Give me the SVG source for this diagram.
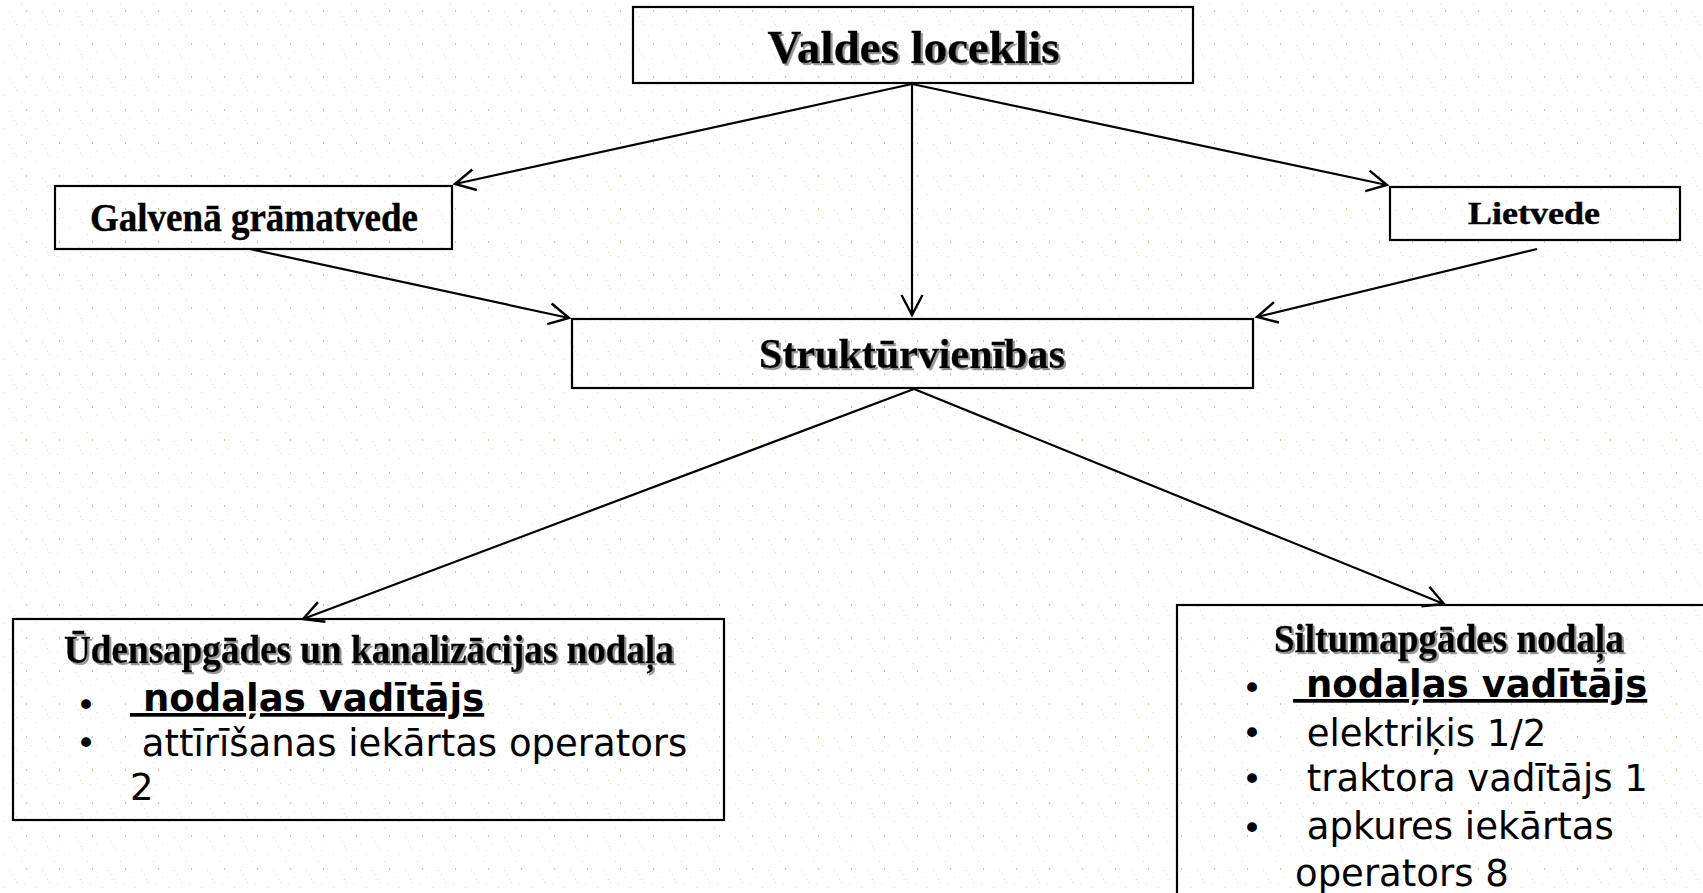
<svg xmlns="http://www.w3.org/2000/svg" width="1703" height="893" viewBox="0 0 1703 893">
<defs>
<pattern id="bg" width="33" height="33" patternUnits="userSpaceOnUse">
<rect width="33" height="33" fill="#ffffff"/>
<rect x="26" y="10" width="1" height="2" fill="#cfcb98"/>
<rect x="21" y="3" width="1" height="1" fill="#e6e3c8"/>
<rect x="9" y="12" width="1" height="1" fill="#e3e0c4"/>
<rect x="12" y="16" width="1" height="1" fill="#e8e6cf"/>
<rect x="14" y="21" width="1" height="1" fill="#e3e0c4"/>
<rect x="24" y="25" width="1" height="1" fill="#e8e6cf"/>
<rect x="16" y="24" width="1" height="1" fill="#e6e3c8"/>
<rect x="3" y="29" width="1" height="1" fill="#e8e6cf"/>
<rect x="30" y="19" width="1" height="1" fill="#ebe9d6"/>
</pattern>
<filter id="shadow" x="-5%" y="-20%" width="110%" height="140%">
<feDropShadow dx="2" dy="2" stdDeviation="0.6" flood-color="#8a8a8a" flood-opacity="0.9"/>
</filter>
<marker id="arr" markerUnits="userSpaceOnUse" orient="auto" overflow="visible" refX="0" refY="0" markerWidth="1" markerHeight="1">
<path d="M-20,-10.5 L0,0 L-20,10.5" fill="none" stroke="#000" stroke-width="2.4" stroke-linejoin="miter"/>
</marker>
</defs>
<style>
.box{fill:none;stroke:#000;stroke-width:2.2}
.title{font-family:"Liberation Serif","Times New Roman",serif;font-weight:bold;fill:#000;stroke:#000;stroke-width:0.4}
.sh{filter:url(#shadow)}
.item{font-family:"DejaVu Sans",Verdana,sans-serif;font-size:37px;fill:#000}
.bold{font-weight:bold;text-decoration:underline}
.bullet{font-family:"DejaVu Sans",Verdana,sans-serif;font-size:34px;fill:#000}
.conn line{stroke:#000;stroke-width:2.2;marker-end:url(#arr)}
</style>
<rect width="1703" height="893" fill="url(#bg)"/>

<g id="connectors" class="conn">
<line x1="912" y1="84" x2="455" y2="184"/>
<line x1="912" y1="84" x2="1387" y2="185"/>
<line x1="912" y1="84" x2="912" y2="315"/>
<line x1="250" y1="249" x2="569" y2="318"/>
<line x1="1537" y1="249" x2="1257" y2="317"/>
<line x1="914" y1="389" x2="303" y2="619"/>
<line x1="914" y1="389" x2="1444" y2="604"/>
</g>

<g id="valdes-loceklis">
<rect class="box" x="633" y="7" width="560" height="76"/>
<text class="title sh" x="913.5" y="63" font-size="47" text-anchor="middle">Valdes loceklis</text>
</g>

<g id="galvena-gramatvede">
<rect class="box" x="55" y="186" width="397" height="63"/>
<text class="title" x="90" y="231" font-size="41" textLength="328" lengthAdjust="spacingAndGlyphs">Galvenā grāmatvede</text>
</g>

<g id="lietvede">
<rect class="box" x="1390" y="187" width="290" height="53"/>
<text class="title" x="1468" y="224" font-size="31" textLength="132" lengthAdjust="spacingAndGlyphs">Lietvede</text>
</g>

<g id="strukturvienibas">
<rect class="box" x="572" y="319" width="681" height="69"/>
<text class="title sh" x="759" y="368" font-size="43" textLength="306" lengthAdjust="spacingAndGlyphs">Struktūrvienības</text>
</g>

<g id="udensapgades-nodala">
<rect class="box" x="13" y="619" width="711" height="201"/>
<text class="title sh" x="64" y="663" font-size="40" textLength="610" lengthAdjust="spacingAndGlyphs">Ūdensapgādes un kanalizācijas nodaļa</text>
<text class="bullet" x="86" y="717" text-anchor="middle">•</text>
<text class="item bold" x="130" y="711" xml:space="preserve"> nodaļas vadītājs</text>
<text class="bullet" x="86" y="755" text-anchor="middle">•</text>
<text class="item" x="130" y="756" xml:space="preserve"> attīrīšanas iekārtas operators</text>
<text class="item" x="130" y="800">2</text>
</g>

<g id="siltumapgades-nodala">
<rect class="box" x="1177" y="605" width="560" height="320"/>
<text class="title sh" x="1274" y="652" font-size="39" textLength="350" lengthAdjust="spacingAndGlyphs">Siltumapgādes nodaļa</text>
<text class="bullet" x="1252" y="700" text-anchor="middle">•</text>
<text class="item bold" x="1293" y="697" xml:space="preserve"> nodaļas vadītājs</text>
<text class="bullet" x="1252" y="745" text-anchor="middle">•</text>
<text class="item" x="1295" y="746" xml:space="preserve"> elektriķis 1/2</text>
<text class="bullet" x="1252" y="791" text-anchor="middle">•</text>
<text class="item" x="1295" y="791" xml:space="preserve"> traktora vadītājs 1</text>
<text class="bullet" x="1252" y="840" text-anchor="middle">•</text>
<text class="item" x="1295" y="839" xml:space="preserve"> apkures iekārtas</text>
<text class="item" x="1295" y="886">operators 8</text>
</g>
</svg>
